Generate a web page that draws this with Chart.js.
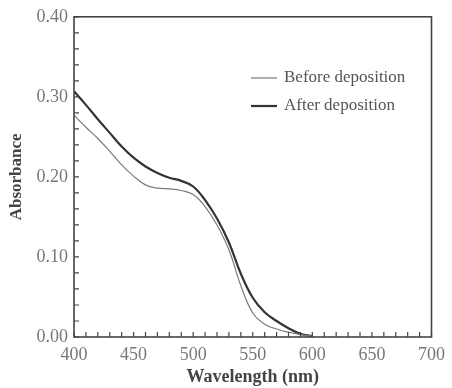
<!DOCTYPE html>
<html>
<head>
<meta charset="utf-8">
<script src="https://cdn.jsdelivr.net/npm/chart.js@4.4.0/dist/chart.umd.min.js"></script>
<style>
  body { margin: 0; background: #fff; }
  #wrap { width: 452px; height: 388px; }
</style>
</head>
<body>
<div id="wrap"><canvas id="absChart" width="452" height="388"></canvas></div>
<script>
const wavelengths = [400, 410, 420, 430, 440, 450, 460, 470, 480, 490, 500, 510, 520, 530, 540, 550, 560, 570, 580, 590, 600];
const beforeDeposition = [0.277, 0.262, 0.248, 0.232, 0.215, 0.201, 0.190, 0.186, 0.185, 0.183, 0.178, 0.163, 0.140, 0.109, 0.064, 0.030, 0.016, 0.010, 0.006, 0.003, 0.001];
const afterDeposition = [0.307, 0.290, 0.272, 0.255, 0.238, 0.224, 0.213, 0.205, 0.199, 0.195, 0.188, 0.171, 0.148, 0.118, 0.079, 0.049, 0.031, 0.020, 0.011, 0.004, 0.001];
const xTickLabels = [400, 450, 500, 550, 600, 650, 700];
const yTickLabels = ["0.00", "0.10", "0.20", "0.30", "0.40"];

const serif = "'Liberation Serif', 'DejaVu Serif', serif";

function toPoints(ys) {
  return wavelengths.map((w, i) => ({ x: w, y: ys[i] }));
}

// frame + inward tick marks
const framePlugin = {
  id: "frame",
  afterDraw(chart) {
    const ctx = chart.ctx;
    const a = chart.chartArea;
    ctx.save();
    ctx.strokeStyle = "#444";
    ctx.lineWidth = 1.6;
    ctx.strokeRect(a.left, a.top, a.right - a.left, a.bottom - a.top);
    ctx.lineWidth = 1.2;
    ctx.beginPath();
    chart.scales.x.ticks.forEach(t => {
      const px = chart.scales.x.getPixelForValue(t.value);
      ctx.moveTo(px, a.bottom);
      ctx.lineTo(px, a.bottom - 5);
    });
    chart.scales.y.ticks.forEach(t => {
      const py = chart.scales.y.getPixelForValue(t.value);
      ctx.moveTo(a.left, py);
      ctx.lineTo(a.left + 5, py);
    });
    ctx.stroke();
    ctx.restore();
  }
};

// legend inside the plot
const legendPlugin = {
  id: "insideLegend",
  afterDraw(chart) {
    const ctx = chart.ctx;
    ctx.save();
    ctx.font = "17px " + serif;
    ctx.textBaseline = "middle";
    chart.data.datasets.forEach((ds, i) => {
      const y = 78 + i * 28;
      ctx.strokeStyle = ds.borderColor;
      ctx.lineWidth = ds.borderWidth;
      ctx.beginPath();
      ctx.moveTo(251, y);
      ctx.lineTo(277, y);
      ctx.stroke();
      ctx.fillStyle = "#555";
      ctx.fillText(ds.label, 284, y);
    });
    ctx.restore();
  }
};

new Chart(document.getElementById("absChart"), {
  type: "line",
  data: {
    datasets: [{
      label: "Before deposition",
      data: toPoints(beforeDeposition),
      borderColor: "#7a7a7a",
      borderWidth: 1.2,
      pointRadius: 0,
      tension: 0.4
    }, {
      label: "After deposition",
      data: toPoints(afterDeposition),
      borderColor: "#333",
      borderWidth: 2.2,
      pointRadius: 0,
      tension: 0.4
    }]
  },
  options: {
    responsive: false,
    animation: false,
    layout: { padding: { top: 13, right: 12, left: 0, bottom: 0 } },
    plugins: {
      legend: { display: false },
      tooltip: { enabled: false }
    },
    scales: {
      x: {
        type: "linear",
        min: 400,
        max: 700,
        afterFit(scale) { scale.height = 51; },
        grid: { display: false, drawTicks: false },
        border: { display: false },
        ticks: {
          stepSize: 10,
          autoSkip: false,
          maxRotation: 0,
          padding: 7,
          color: "#777",
          font: { family: serif, size: 18 },
          callback: v => xTickLabels.includes(v) ? String(v) : ""
        },
        title: {
          display: true,
          text: "Wavelength (nm)",
          color: "#444",
          font: { family: serif, size: 18, weight: "bold" },
          padding: { top: 0, bottom: 0 }
        }
      },
      y: {
        min: 0,
        max: 0.4,
        afterFit(scale) { scale.width = 74; },
        grid: { display: false, drawTicks: false },
        border: { display: false },
        ticks: {
          stepSize: 0.02,
          autoSkip: false,
          padding: 6,
          color: "#777",
          font: { family: serif, size: 18 },
          callback: v => {
            const s = v.toFixed(2);
            return yTickLabels.includes(s) && Math.abs(v * 10 - Math.round(v * 10)) < 1e-6 ? s : "";
          }
        },
        title: {
          display: true,
          text: "Absorbance",
          color: "#444",
          font: { family: serif, size: 17, weight: "bold" },
          padding: { top: 6, bottom: 0 }
        }
      }
    }
  },
  plugins: [framePlugin, legendPlugin]
});
</script>
</body>
</html>
